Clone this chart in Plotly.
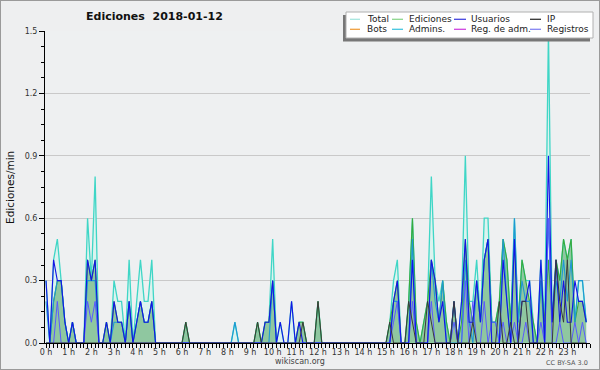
import plotly.graph_objects as go

# ---------------- data (10-minute bins, edits per minute) ----------------
BINS = list(range(144))

HOUR_LABELS = ["0 h", "1 h", "2 h", "3 h", "4 h", "5 h", "6 h", "7 h", "8 h", "9 h",
               "10 h", "11 h", "12 h", "13 h", "14 h", "15 h", "16 h", "17 h", "18 h",
               "19 h", "20 h", "21 h", "22 h", "23 h"]
HOUR_TICKS = [0, 6, 12, 18, 24, 30, 36, 42, 48, 54, 60, 66, 72, 78, 84, 90, 96, 102,
              108, 114, 120, 126, 132, 138]

TOTAL = [
    0.3, 0, 0.4, 0.5, 0.3, 0.1,
    0, 0.1, 0, 0, 0, 0.6,
    0.3, 0.8, 0, 0, 0.1, 0,
    0.3, 0.2, 0.2, 0, 0.4, 0,
    0.2, 0.4, 0.2, 0.2, 0.4, 0,
    0, 0, 0, 0, 0, 0,
    0, 0.1, 0, 0, 0, 0,
    0, 0, 0, 0, 0, 0,
    0, 0, 0.1, 0, 0, 0,
    0, 0, 0.1, 0, 0.1, 0.1,
    0.5, 0, 0.1, 0, 0, 0.2,
    0, 0.1, 0.1, 0, 0, 0,
    0.2, 0, 0, 0, 0, 0,
    0, 0, 0, 0, 0, 0,
    0, 0, 0, 0, 0, 0,
    0, 0.1, 0.3, 0.4, 0, 0,
    0.2, 0.6, 0.1, 0, 0.1, 0.2,
    0.8, 0.3, 0.2, 0.3, 0.1, 0,
    0.2, 0, 0.2, 0.9, 0.2, 0.2,
    0.4, 0.1, 0.6, 0.6, 0.1, 0.1,
    0.2, 0.5, 0.4, 0.1, 0.6, 0.1,
    0.4, 0.3, 0.3, 0.1, 0, 0.4,
    0.1, 1.5, 0.1, 0.4, 0.3, 0.5,
    0.4, 0.5, 0.1, 0.3, 0.3, 0.1,
]

EDICIONES = [
    0, 0, 0.2, 0.3, 0.3, 0.1,
    0, 0.1, 0, 0, 0, 0.4,
    0.3, 0.4, 0, 0, 0.1, 0,
    0.2, 0.1, 0.1, 0, 0.2, 0,
    0.1, 0.2, 0.1, 0.1, 0.2, 0,
    0, 0, 0, 0, 0, 0,
    0, 0.1, 0, 0, 0, 0,
    0, 0, 0, 0, 0, 0,
    0, 0, 0, 0, 0, 0,
    0, 0, 0.1, 0, 0.1, 0.1,
    0.3, 0, 0, 0, 0, 0,
    0, 0.1, 0.1, 0, 0, 0,
    0.2, 0, 0, 0, 0, 0,
    0, 0, 0, 0, 0, 0,
    0, 0, 0, 0, 0, 0,
    0, 0.1, 0.2, 0.3, 0, 0,
    0.2, 0.6, 0.1, 0, 0.1, 0.2,
    0.4, 0.3, 0.1, 0.3, 0.1, 0,
    0.2, 0, 0.1, 0.5, 0.2, 0.1,
    0.3, 0.1, 0.4, 0.5, 0.1, 0.1,
    0.2, 0.5, 0.4, 0.1, 0.5, 0.1,
    0.4, 0.3, 0.2, 0.1, 0, 0.3,
    0.1, 0.4, 0.1, 0.4, 0.3, 0.5,
    0.4, 0.5, 0.1, 0.2, 0.2, 0.1,
]

USUARIOS = [
    0.3, 0, 0.4, 0.3, 0.3, 0.1,
    0, 0.1, 0, 0, 0, 0.4,
    0.3, 0.4, 0, 0, 0.1, 0,
    0.2, 0.1, 0.1, 0, 0.2, 0,
    0.1, 0.2, 0.1, 0.1, 0.2, 0,
    0, 0, 0, 0, 0, 0,
    0, 0, 0, 0, 0, 0,
    0, 0, 0, 0, 0, 0,
    0, 0, 0, 0, 0, 0,
    0, 0, 0, 0, 0.1, 0.1,
    0.3, 0, 0.1, 0, 0, 0.2,
    0, 0.1, 0, 0, 0, 0,
    0, 0, 0, 0, 0, 0,
    0, 0, 0, 0, 0, 0,
    0, 0, 0, 0, 0, 0,
    0, 0, 0.2, 0.3, 0, 0,
    0, 0.4, 0, 0, 0, 0,
    0.4, 0.3, 0.1, 0.2, 0, 0,
    0.2, 0, 0.2, 0.5, 0.1, 0.1,
    0.3, 0.1, 0.4, 0.5, 0, 0,
    0, 0.4, 0.2, 0, 0.5, 0,
    0.2, 0.2, 0.3, 0, 0, 0.4,
    0, 0.9, 0.1, 0.4, 0.1, 0.3,
    0.1, 0.1, 0.3, 0.2, 0.2, 0.1,
]

ADMINS = [
    0.2, 0, 0.2, 0.3, 0.3, 0.1,
    0, 0.1, 0, 0, 0, 0.3,
    0.3, 0.3, 0, 0, 0, 0,
    0.1, 0.1, 0.1, 0, 0.2, 0,
    0.1, 0.2, 0.1, 0.1, 0.2, 0,
    0, 0, 0, 0, 0, 0,
    0, 0, 0, 0, 0, 0,
    0, 0, 0, 0, 0, 0,
    0, 0, 0.1, 0, 0, 0,
    0, 0, 0, 0, 0, 0,
    0.3, 0, 0, 0, 0, 0,
    0, 0, 0, 0, 0, 0,
    0, 0, 0, 0, 0, 0,
    0, 0, 0, 0, 0, 0,
    0, 0, 0, 0, 0, 0,
    0, 0, 0.2, 0.2, 0, 0,
    0, 0.5, 0, 0, 0, 0,
    0.4, 0.2, 0.1, 0.3, 0, 0,
    0, 0, 0, 0.4, 0.1, 0,
    0.3, 0.1, 0.4, 0.5, 0.1, 0.1,
    0, 0.5, 0.2, 0, 0.6, 0.1,
    0.3, 0.2, 0.2, 0, 0, 0.3,
    0, 0.6, 0.1, 0.3, 0.2, 0.4,
    0.2, 0.4, 0.1, 0.3, 0.3, 0.1,
]

IP = [
    0, 0, 0, 0, 0, 0,
    0, 0, 0, 0, 0, 0,
    0, 0, 0, 0, 0, 0,
    0, 0, 0, 0, 0, 0,
    0, 0, 0, 0, 0, 0,
    0, 0, 0, 0, 0, 0,
    0, 0.1, 0, 0, 0, 0,
    0, 0, 0, 0, 0, 0,
    0, 0, 0, 0, 0, 0,
    0, 0, 0.1, 0, 0, 0,
    0, 0, 0, 0, 0, 0,
    0, 0, 0.1, 0, 0, 0,
    0.2, 0, 0, 0, 0, 0,
    0, 0, 0, 0, 0, 0,
    0, 0, 0, 0, 0, 0,
    0, 0.1, 0, 0, 0, 0,
    0.2, 0.1, 0, 0, 0, 0.2,
    0.1, 0, 0, 0, 0, 0,
    0.2, 0, 0, 0, 0, 0.1,
    0, 0, 0, 0, 0, 0,
    0.2, 0, 0, 0.1, 0, 0,
    0.2, 0.2, 0, 0, 0, 0,
    0, 0, 0, 0.4, 0.2, 0.1,
    0.4, 0, 0, 0, 0, 0,
]

REGISTROS = [
    0, 0, 0, 0.2, 0, 0,
    0, 0, 0, 0, 0, 0.2,
    0.1, 0.2, 0, 0, 0, 0,
    0, 0, 0, 0, 0, 0,
    0, 0, 0, 0, 0, 0,
    0, 0, 0, 0, 0, 0,
    0, 0, 0, 0, 0, 0,
    0, 0, 0, 0, 0, 0,
    0, 0, 0, 0, 0, 0,
    0, 0, 0, 0, 0, 0,
    0, 0, 0, 0, 0, 0,
    0, 0, 0, 0, 0, 0,
    0, 0, 0, 0, 0, 0,
    0, 0, 0, 0, 0, 0,
    0, 0, 0, 0, 0, 0,
    0, 0, 0.1, 0.2, 0, 0,
    0, 0.2, 0, 0, 0, 0,
    0.2, 0, 0, 0, 0, 0,
    0.1, 0, 0, 0.3, 0, 0.2,
    0, 0, 0.2, 0, 0.1, 0.1,
    0, 0.1, 0, 0, 0.1, 0,
    0, 0.1, 0, 0, 0, 0.1,
    0, 0.6, 0, 0, 0.1, 0,
    0, 0, 0.1, 0, 0.1, 0,
]

LEGEND_NAMES = ["Total", "Ediciones", "Usuarios", "IP",
                "Bots", "Admins.", "Reg. de adm.", "Registros"]
LEGEND_COLORS = ["#a6e6df", "#8ed68e", "#4545e0", "#333333",
                 "#f0a040", "#45c6e0", "#cf45e0", "#8585f2"]

# ---------------- styling ----------------
FONT = "DejaVu Sans"
W, H = 600, 370
ML, MR, MT, MB = 45, 10, 31, 27
PW, PH = W - ML - MR, H - MT - MB


def px(X):
    return (X - ML) / PW


def py(Y):
    return (H - MB - Y) / PH


fig = go.Figure()

# fills
fig.add_trace(go.Scatter(x=BINS, y=TOTAL, mode="none", fill="tozeroy",
                         fillcolor="#dcf3ef", hoverinfo="skip", showlegend=False))
fig.add_trace(go.Scatter(x=BINS, y=EDICIONES, mode="none", fill="tozeroy",
                         fillcolor="#8fc7a0", hoverinfo="skip", showlegend=False))

# lines
line_specs = [
    (TOTAL, "#3fd6c6", 1.3),
    (EDICIONES, "#38aa3c", 1.1),
    (ADMINS, "#1e98d4", 1.1),
    (REGISTROS, "#5a5aff", 1.0),
    (USUARIOS, "#1414e6", 1.1),
    (IP, "#3a3a3a", 1.0),
]
for ys, col, w in line_specs:
    fig.add_trace(go.Scatter(x=BINS, y=ys, mode="lines",
                             line=dict(color=col, width=w, shape="linear"),
                             hoverinfo="skip", showlegend=False))

fig.update_layout(
    width=W, height=H,
    margin=dict(l=ML, r=MR, t=MT, b=MB, pad=0),
    paper_bgcolor="#eeeff0",
    plot_bgcolor="#eef0f1",
    showlegend=False,
    font=dict(family=FONT, size=8, color="#333333"),
)

fig.update_xaxes(
    range=[-0.27, 144],
    tickmode="array", tickvals=HOUR_TICKS, ticktext=HOUR_LABELS,
    ticks="outside", ticklen=4, tickwidth=1, tickcolor="black",
    ticklabelstandoff=-3,
    showline=True, linecolor="black", linewidth=1,
    showgrid=False, zeroline=False,
    tickfont=dict(family=FONT, size=8, color="#333333"),
    minor=dict(tickmode="linear", tick0=0, dtick=1, ticks="outside",
               ticklen=4, tickwidth=1, tickcolor="black", showgrid=False),
)
fig.update_yaxes(
    range=[0, 1.5],
    tick0=0, dtick=0.3, tickformat=".1f",
    ticks="outside", ticklen=5, tickwidth=1, tickcolor="black",
    showline=True, linecolor="black", linewidth=1,
    showgrid=True, gridcolor="#c9c9c9", gridwidth=1,
    zeroline=False,
    tickfont=dict(family=FONT, size=8, color="#333333"),
    minor=dict(tick0=0, dtick=0.075, ticks="outside", ticklen=3,
               tickwidth=1, tickcolor="black", showgrid=False),
)

shapes = []
annotations = []

# outer frame
shapes.append(dict(type="rect", xref="paper", yref="paper",
                   x0=px(0), x1=px(W), y0=py(0), y1=py(H),
                   line=dict(color="#9a9a9a", width=2), fillcolor="rgba(0,0,0,0)",
                   layer="above"))

# legend box with shadow
shapes.append(dict(type="rect", xref="paper", yref="paper",
                   x0=px(343), x1=px(590), y0=py(15), y1=py(41.5),
                   line=dict(width=0), fillcolor="#777777", layer="above"))
shapes.append(dict(type="rect", xref="paper", yref="paper",
                   x0=px(346), x1=px(593), y0=py(12), y1=py(38),
                   line=dict(color="#b0b0b0", width=1), fillcolor="white",
                   layer="above"))

col_sample = [(350, 360), (392, 403), (454, 466), (530, 541)]
col_text = [365, 407, 469, 545]
row_y = [19.3, 29.3]
for i, (name, col) in enumerate(zip(LEGEND_NAMES, LEGEND_COLORS)):
    r, c = divmod(i, 4)
    x0, x1 = col_sample[c]
    shapes.append(dict(type="line", xref="paper", yref="paper",
                       x0=px(x0), x1=px(x1), y0=py(row_y[r]), y1=py(row_y[r]),
                       line=dict(color=col, width=1.3), layer="above"))
    annotations.append(dict(xref="paper", yref="paper", x=px(col_text[c]),
                            y=py(row_y[r]), xanchor="left", yanchor="middle",
                            text=name, showarrow=False,
                            font=dict(family=FONT, size=9, color="#222222")))

# title
annotations.append(dict(xref="paper", yref="paper", x=px(154), y=py(16.5),
                        xanchor="center", yanchor="middle",
                        text="<b>Ediciones\u00a0 2018-01-12</b>", showarrow=False,
                        font=dict(family=FONT, size=11, color="#111111")))
# y title
annotations.append(dict(xref="paper", yref="paper", x=px(10), y=py(188),
                        xanchor="center", yanchor="middle", textangle=-90,
                        text="Ediciones/min", showarrow=False,
                        font=dict(family=FONT, size=10.5, color="#111111")))
# footer
annotations.append(dict(xref="paper", yref="paper", x=px(300), y=py(361.5),
                        xanchor="center", yanchor="middle",
                        text="wikiscan.org", showarrow=False,
                        font=dict(family=FONT, size=8, color="#444444")))
annotations.append(dict(xref="paper", yref="paper", x=px(590), y=py(362.5),
                        xanchor="right", yanchor="middle",
                        text="CC BY-SA 3.0", showarrow=False,
                        font=dict(family=FONT, size=6.5, color="#555555")))

fig.update_layout(shapes=shapes, annotations=annotations)

fig.write_html("out.html",
               config={"displayModeBar": False},
               post_script="document.body.style.margin='0';"
                           "document.body.style.padding='0';")
